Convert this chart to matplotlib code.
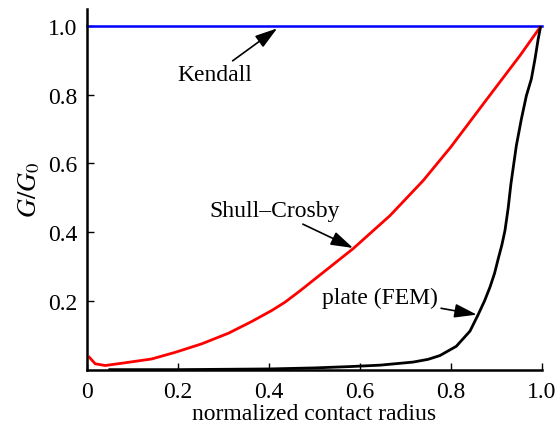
import matplotlib.pyplot as plt

plt.rcParams["font.family"] = ["Liberation Serif", "DejaVu Serif"]
plt.rcParams["mathtext.fontset"] = "stix"

# Kendall (constant)
kendall_x = [0.0, 1.0]
kendall_y = [1.0, 1.0]

# Shull-Crosby
sc_x = [0.005, 0.018, 0.04, 0.084, 0.142, 0.193, 0.252, 0.311, 0.362, 0.406, 0.435,
        0.468, 0.585, 0.666, 0.739, 0.800, 0.878, 0.952, 0.996]
sc_y = [0.036, 0.017, 0.012, 0.020, 0.031, 0.050, 0.075, 0.106, 0.140, 0.172, 0.196,
        0.229, 0.352, 0.448, 0.550, 0.648, 0.785, 0.914, 0.996]

# plate (FEM)
fem_x = [0.05, 0.20, 0.40, 0.50, 0.58, 0.644, 0.717, 0.750, 0.776, 0.812, 0.842, 0.860,
         0.874, 0.886, 0.896, 0.904, 0.912, 0.919, 0.926, 0.932, 0.944, 0.955, 0.966,
         0.977, 0.985, 0.992, 0.997]
fem_y = [0.0, 0.0, 0.002, 0.005, 0.009, 0.013, 0.022, 0.030, 0.041, 0.068, 0.112, 0.160,
         0.200, 0.240, 0.280, 0.322, 0.362, 0.405, 0.470, 0.540, 0.652, 0.729, 0.797,
         0.846, 0.904, 0.962, 0.996]

fig = plt.figure(figsize=(5.58, 4.27), dpi=100)
ax = fig.add_axes([0.156, 0.132, 0.815, 0.845])

ax.plot(kendall_x, kendall_y, color="#0000ff", lw=1.8, clip_on=False)
ax.plot(sc_x, sc_y, color="#ff0000", lw=2.0, clip_on=False)
ax.plot(fem_x, fem_y, color="black", lw=2.0, clip_on=False)

ax.set_xlim(0, 1.0)
ax.set_ylim(0, 1.05)
ax.set_xticks([0, 0.2, 0.4, 0.6, 0.8, 1.0])
ax.set_xticklabels(["0", "0.2", "0.4", "0.6", "0.8", "1.0"])
ax.set_yticks([0.2, 0.4, 0.6, 0.8, 1.0])
ax.set_yticklabels(["0.2", "0.4", "0.6", "0.8", "1.0"])
ax.tick_params(direction="in", length=5, width=1, labelsize=17, pad=7)
ax.tick_params(axis="x", pad=8)
ax.spines["top"].set_visible(False)
ax.spines["right"].set_visible(False)
ax.spines["left"].set_linewidth(1.8)
ax.spines["bottom"].set_linewidth(1.8)

ax.set_xlabel("normalized contact radius", fontsize=17, labelpad=1)
ax.set_ylabel("$G/G_0$", fontsize=19, labelpad=4)

arrow = dict(arrowstyle="-|>,head_length=0.8,head_width=0.25", color="black", lw=1.2, shrinkA=0, shrinkB=0)
ax.annotate("Kendall", xy=(0.418, 0.993), xytext=(0.28, 0.86), fontsize=17,
            ha="center", va="center", arrowprops=arrow)
ax.annotate("Shull\u2013Crosby", xy=(0.585, 0.354), xytext=(0.413, 0.462), fontsize=17,
            ha="center", va="center", arrowprops=arrow)
ax.annotate("plate (FEM)", xy=(0.857, 0.16), xytext=(0.645, 0.21), fontsize=17,
            ha="center", va="center", arrowprops=arrow)

fig.savefig("out.png", dpi=100)
